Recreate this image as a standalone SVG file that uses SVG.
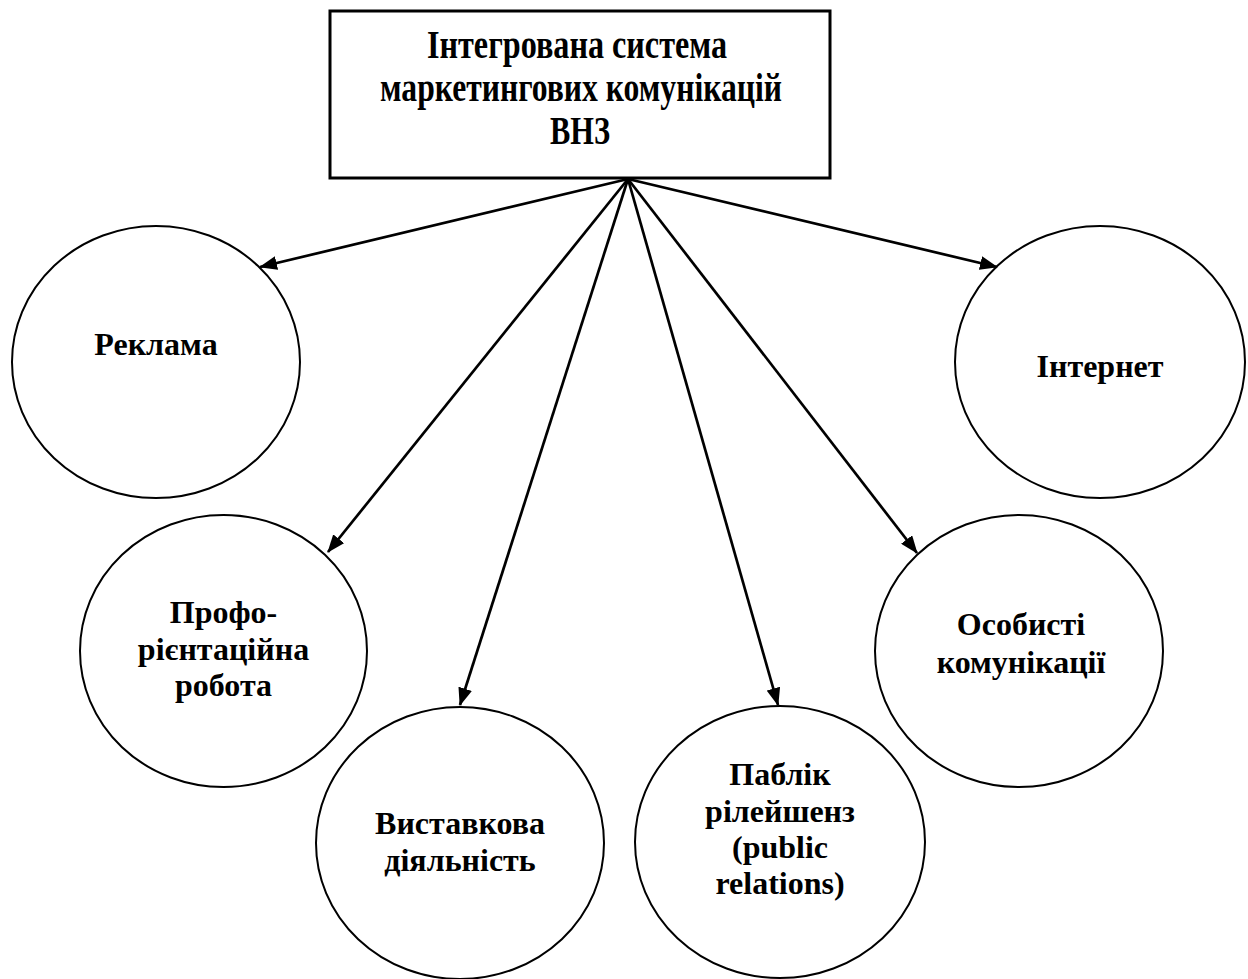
<svg xmlns="http://www.w3.org/2000/svg" width="1248" height="979" viewBox="0 0 1248 979">
<style>
.shape{fill:#fff;stroke:#000;stroke-width:2}
.box{fill:#fff;stroke:#000;stroke-width:3}
.lbl{font-family:"Liberation Serif","Times New Roman",serif;font-weight:bold;font-size:32px;fill:#000;text-anchor:middle}
.ttl{font-family:"Liberation Serif","Times New Roman",serif;font-weight:bold;font-size:39px;fill:#000;text-anchor:middle}
.conn{stroke:#000;stroke-width:2.7;fill:none;marker-end:url(#arr)}
</style>
<defs>
<marker id="arr" markerUnits="userSpaceOnUse" viewBox="0 0 18 14" markerWidth="18" markerHeight="14" refX="17" refY="7" orient="auto">
<path d="M0,0 L18,7 L0,14 Z" fill="#000"/>
</marker>
</defs>
<g id="hub">
<rect class="box" x="330" y="11" width="500" height="167"/>
<text class="ttl" x="577" y="58" textLength="300" lengthAdjust="spacingAndGlyphs">Інтегрована система</text>
<text class="ttl" x="581" y="101" textLength="402" lengthAdjust="spacingAndGlyphs">маркетингових комунікацій</text>
<text class="ttl" x="580" y="144" textLength="60" lengthAdjust="spacingAndGlyphs">ВНЗ</text>
</g>
<g id="reklama">
<ellipse class="shape" cx="156" cy="362" rx="144" ry="136"/>
<text class="lbl" x="156" y="355">Реклама</text>
</g>
<g id="internet">
<ellipse class="shape" cx="1100" cy="362" rx="145" ry="136"/>
<text class="lbl" x="1100" y="377">Інтернет</text>
</g>
<g id="proforientatsiia">
<ellipse class="shape" cx="223.5" cy="651" rx="143.5" ry="136"/>
<text class="lbl" x="223.5" y="623">Профо-</text>
<text class="lbl" x="223.5" y="660">рієнтаційна</text>
<text class="lbl" x="223.5" y="696">робота</text>
</g>
<g id="vystavkova">
<ellipse class="shape" cx="460" cy="843" rx="144" ry="136"/>
<text class="lbl" x="460" y="834">Виставкова</text>
<text class="lbl" x="460" y="871">діяльність</text>
</g>
<g id="pablik">
<ellipse class="shape" cx="780" cy="842" rx="145" ry="136"/>
<text class="lbl" x="780" y="785">Паблік</text>
<text class="lbl" x="780" y="822">рілейшенз</text>
<text class="lbl" x="780" y="858">(public</text>
<text class="lbl" x="780" y="894">relations)</text>
</g>
<g id="osobysti">
<ellipse class="shape" cx="1019" cy="651" rx="144" ry="136"/>
<text class="lbl" x="1021" y="635">Особисті</text>
<text class="lbl" x="1021" y="673">комунікації</text>
</g>
<g id="connectors">
<line class="conn" x1="628" y1="179" x2="260" y2="267"/>
<line class="conn" x1="628" y1="179" x2="997" y2="267"/>
<line class="conn" x1="628" y1="179" x2="328" y2="552"/>
<line class="conn" x1="628" y1="179" x2="460" y2="705"/>
<line class="conn" x1="628" y1="179" x2="778" y2="705"/>
<line class="conn" x1="628" y1="179" x2="917" y2="553"/>
</g>
</svg>
